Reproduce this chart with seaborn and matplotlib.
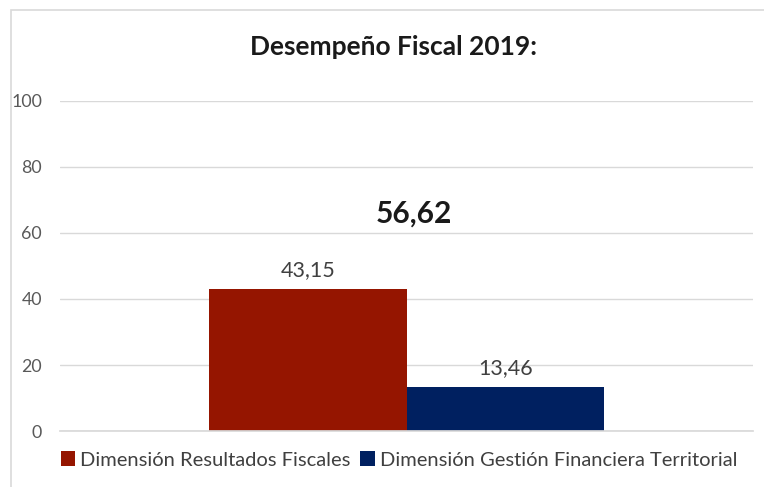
import pandas as pd
import matplotlib.pyplot as plt
import matplotlib.patches as mpatches
import seaborn as sns

# Datos del gráfico
periodo = ["2019"]
dimensiones = ["Dimensión Resultados Fiscales", "Dimensión Gestión Financiera Territorial"]
valores = [43.15, 13.46]
total = 56.62
etiquetas = ["43,15", "13,46"]
etiqueta_total = "56,62"
colores = ["#951500", "#002060"]

df = pd.DataFrame({
    "periodo": periodo * len(dimensiones),
    "dimension": dimensiones,
    "valor": valores,
})

sns.set_theme(style="white")
plt.rcParams['font.family'] = ['Lato', 'DejaVu Sans']

fig = plt.figure(figsize=(7.64, 4.87), dpi=100)
ax = fig.add_axes([60 / 764, 1 - 431 / 487, 693 / 764, 330 / 487])

# Marco gris claro alrededor del gráfico
fig.patches.append(mpatches.Rectangle((11 / 764, -0.2), 1.2, 1.2 - 10 / 487,
                                      transform=fig.transFigure, fill=False,
                                      edgecolor="#d9d9d9", lw=1.2))

sns.barplot(data=df, x="periodo", y="valor", hue="dimension", hue_order=dimensiones,
            palette=colores, width=0.57, saturation=1, linewidth=0, ax=ax, legend=True)

ax.set_ylim(0, 100)
ax.set_xlim(-0.5, 0.5)
ax.set_yticks(range(0, 101, 20))
ax.yaxis.grid(True, color="#d9d9d9", lw=1)
ax.set_axisbelow(True)
for s in ax.spines.values():
    s.set_visible(False)
ax.spines["bottom"].set_visible(True)
ax.spines["bottom"].set_color("#d9d9d9")
ax.set_xticks([])
ax.set_xlabel("")
ax.set_ylabel("")
ax.tick_params(axis="y", colors="#595959", labelsize=12.8, length=0, pad=13)

for cont, lab in zip(ax.containers, etiquetas):
    ax.bar_label(cont, labels=[lab], padding=6, fontsize=15.5, color="#404040")

ax.text(0.01, total + 9.4, etiqueta_total, ha="center", va="center",
        fontsize=21.5, fontweight="bold", color="#1a1a1a")

fig.text(394 / 764, 1 - 47 / 487, "Desempeño Fiscal 2019:", ha="center", va="center",
         fontsize=19, fontweight="bold", color="#1a1a1a")

ax.legend(loc="center", bbox_to_anchor=(399 / 764, 1 - 460 / 487),
          bbox_transform=fig.transFigure, ncol=2, frameon=False,
          fontsize=14.5, handlelength=0.7, handleheight=0.7,
          handletextpad=0.25, columnspacing=0.5, labelcolor="#404040")

fig.savefig("out.png", dpi=100)
